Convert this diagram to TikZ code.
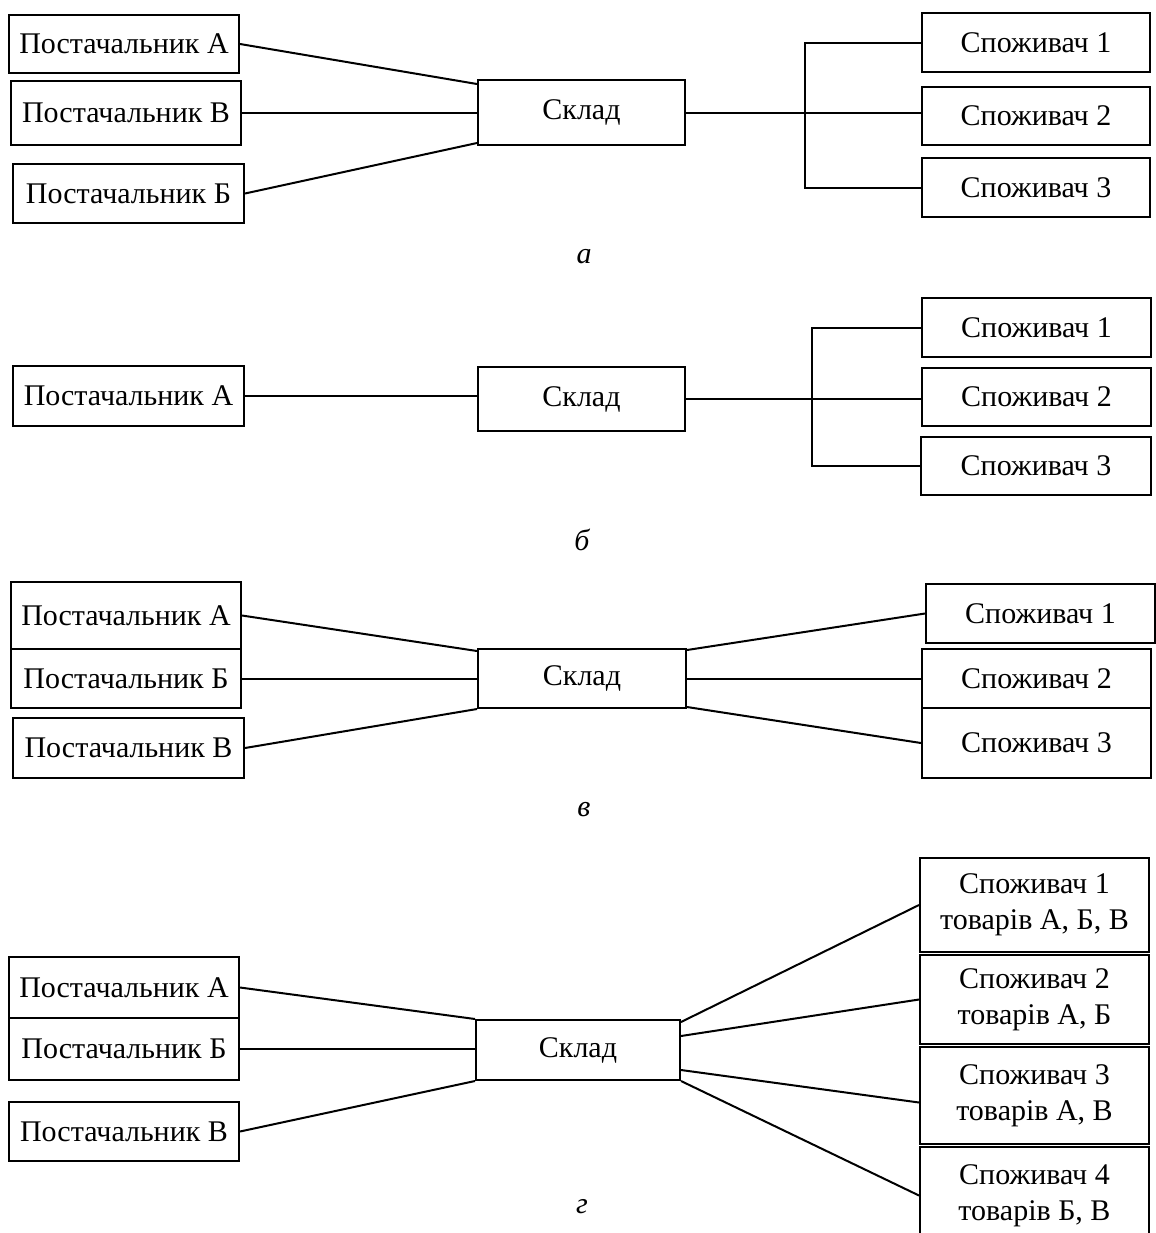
\documentclass[tikz,border=0pt]{standalone}
\usepackage{fontspec}
\setmainfont{Liberation Serif}
\usetikzlibrary{calc}

\begin{document}
\begin{tikzpicture}[x=0.5pt,y=-0.5pt,
    font=\fontsize{15}{18}\selectfont,
    box/.style={draw,line width=1pt,inner sep=0pt,align=center},
    wh/.style 2 args={minimum width=#1*0.5pt,minimum height=#2*0.5pt},
    link/.style={line width=1pt},
    caption/.style={font=\fontsize{15}{18}\selectfont\itshape}]
\useasboundingbox (0,0) rectangle (1156,1233);

                \node[box,wh={230}{58}] (aPA) at(124,44) {Постачальник А};
                \node[box,wh={230}{64}] (aPV) at(126,113) {Постачальник В};
                \node[box,wh={231}{59}] (aPB) at(128.5,193.5) {Постачальник Б};
                \node[box,wh={207}{65}] (aSk) at(581.5,112.5) {Склад};
                \node[box,wh={228}{59}] (aS1) at(1036,42.5) {Споживач 1};
                \node[box,wh={228}{58}] (aS2) at(1036,116) {Споживач 2};
                \node[box,wh={228}{59}] (aS3) at(1036,187.5) {Споживач 3};
                \coordinate (aBr) at(805,0);
                \node[caption] (capA) at(584,257) {а};

                \draw[link] (aPA.east) -- ($(aSk.north west)+(0,5)$);
                \draw[link] (aPV.east) -- (aPV.east -| aSk.west);
                \draw[link] (aPB.east) -- ($(aSk.south west)+(0,-3)$);
                \draw[link] (aSk.east) -- (aSk.east -| aS2.west);
                \draw[link] (aS1.west) -- (aS1.west -| aBr) -- (aS3.west -| aBr) -- (aS3.west);

                \node[box,wh={231}{60}] (bPA) at(128.5,396) {Постачальник А};
                \node[box,wh={207}{64}] (bSk) at(581.5,399) {Склад};
                \node[box,wh={229}{59}] (bS1) at(1036.5,327.5) {Споживач 1};
                \node[box,wh={229}{58}] (bS2) at(1036.5,397) {Споживач 2};
                \node[box,wh={230}{58}] (bS3) at(1036,466) {Споживач 3};
                \coordinate (bBr) at(812,0);
                \node[caption] (capB) at(582,540) {б};

                \draw[link] (bPA.east) -- (bPA.east -| bSk.west);
                \draw[link] (bSk.east) -- (bSk.east -| bS2.west);
                \draw[link] (bS1.west) -- (bS1.west -| bBr) -- (bS3.west -| bBr) -- (bS3.west);

                \node[box,wh={230}{67}] (cPA) at(126,615.5) {Постачальник А};
                \node[box,wh={230}{59}] (cPB) at(126,678.5) {Постачальник Б};
                \node[box,wh={231}{60}] (cPV) at(128.5,748) {Постачальник В};
                \node[box,wh={208}{59}] (cSk) at(582,678.5) {Склад};
                \node[box,wh={229}{59}] (cS1) at(1040.5,613.5) {Споживач 1};
                \node[box,wh={229}{59}] (cS2) at(1036.5,678.5) {Споживач 2};
                \node[box,wh={229}{70}] (cS3) at(1036.5,743) {Споживач 3};
                \node[caption] (capC) at(584,810) {в};

                \draw[link] (cPA.east) -- ($(cSk.north west)+(0,3)$);
                \draw[link] (cPB.east) -- (cSk.west);
                \draw[link] (cPV.east) -- (cSk.south west);
                \draw[link] ($(cSk.north east)+(0,2)$) -- (cS1.west);
                \draw[link] (cSk.east) -- (cS2.west);
                \draw[link] ($(cSk.south east)+(0,-2)$) -- (cS3.west);

                \node[box,wh={230}{61}] (dPA) at(124,987.5) {Постачальник А};
                \node[box,wh={230}{62}] (dPB) at(124,1049) {Постачальник Б};
                \node[box,wh={230}{59}] (dPV) at(124,1131.5) {Постачальник В};
                \node[box,wh={204}{60}] (dSk) at(578,1050) {Склад};
                \node[box,wh={229}{94}] (dS1) at(1034.5,905) {Споживач 1\\товарів А, Б, В};
                \node[box,wh={229}{89}] (dS2) at(1034.5,999.5) {Споживач 2\\товарів А, Б};
                \node[box,wh={229}{97}] (dS3) at(1034.5,1095.5) {Споживач 3\\товарів А, В};
                \node[box,wh={229}{97}] (dS4) at(1034.5,1195.5) {Споживач 4\\товарів Б, В};
                \node[caption] (capD) at(582,1207) {г};

                \draw[link] (dPA.east) -- (dSk.north west);
                \draw[link] (dPB.east) -- (dPB.east -| dSk.west);
                \draw[link] (dPV.east) -- (dSk.south west);
                \draw[link] ($(dSk.north east)+(0,3)$) -- (dS1.west);
                \draw[link] ($(dSk.north east)+(0,17)$) -- (dS2.west);
                \draw[link] ($(dSk.south east)+(0,-11)$) -- ($(dS3.west)+(0,7)$);
                \draw[link] (dSk.south east) -- (dS4.west);
            \end{tikzpicture}
\end{document}
